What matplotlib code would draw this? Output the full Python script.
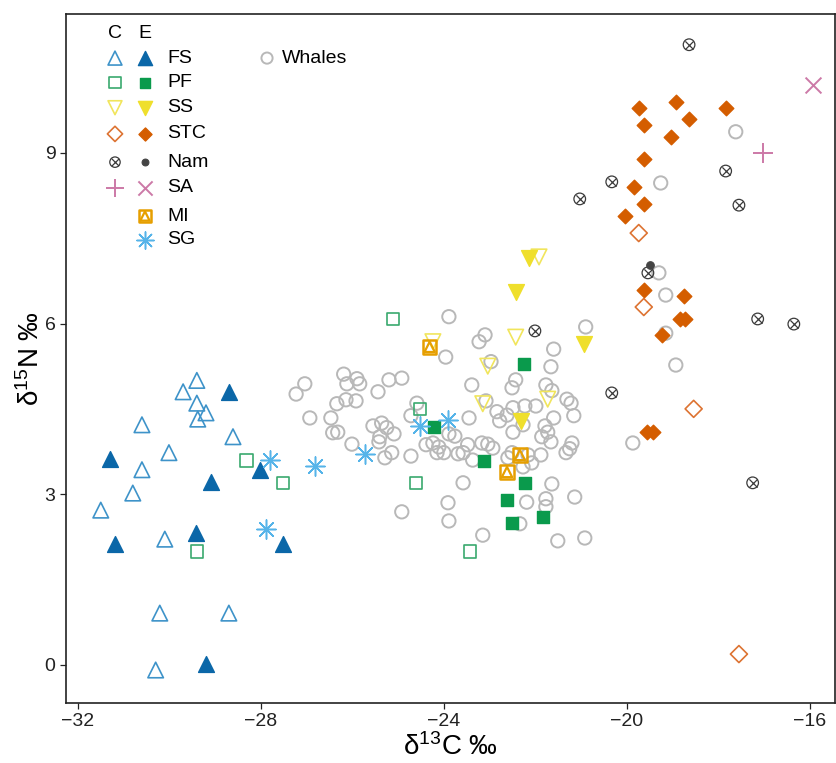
import matplotlib
matplotlib.use("Agg")
import matplotlib.pyplot as plt

plt.rcParams['font.family'] = ['Liberation Sans', 'DejaVu Sans']

# ---- data (d13C, d15N) ----
fs_c_x = [-29.40, -29.70, -29.40, -29.20, -29.38, -30.60, -28.61, -30.01, -30.60, -30.80,
          -31.50, -30.10, -30.21, -28.70, -30.30]
fs_c_y = [5.00, 4.80, 4.60, 4.43, 4.32, 4.22, 4.01, 3.73, 3.43, 3.02,
          2.72, 2.21, 0.91, 0.91, -0.09]
fs_e_x = [-28.70, -31.30, -28.02, -29.09, -29.42, -31.19, -27.52, -29.20]
fs_e_y = [4.80, 3.62, 3.43, 3.22, 2.32, 2.13, 2.13, 0.02]

pf_c_x = [-28.31, -27.52, -29.40, -25.11, -24.52, -24.61, -23.43]
pf_c_y = [3.59, 3.20, 1.99, 6.08, 4.50, 3.20, 1.99]
pf_e_x = [-24.22, -22.25, -23.13, -22.23, -22.62, -22.51, -21.84]
pf_e_y = [4.18, 5.29, 3.59, 3.20, 2.90, 2.50, 2.60]

ss_c_x = [-24.24, -22.43, -23.04, -23.15, -21.73, -21.92]
ss_c_y = [5.68, 5.76, 5.25, 4.59, 4.67, 7.17]
ss_e_x = [-22.14, -22.43, -20.94, -22.32]
ss_e_y = [7.15, 6.56, 5.64, 4.29]

stc_c_x = [-19.74, -19.63, -18.54, -17.55]
stc_c_y = [7.59, 6.29, 4.50, 0.19]
stc_e_x = [-19.74, -18.93, -17.84, -19.63, -18.64, -19.04, -19.63, -19.85, -19.63, -20.04,
           -19.63, -18.75, -18.84, -18.73, -19.23, -19.56, -19.43]
stc_e_y = [9.79, 9.89, 9.79, 9.49, 9.60, 9.28, 8.89, 8.40, 8.10, 7.89,
           6.59, 6.49, 6.08, 6.08, 5.80, 4.09, 4.09]

nam_c_x = [-18.64, -20.33, -21.03, -17.84, -17.55, -19.54, -17.14, -16.35, -22.01, -20.33, -17.25]
nam_c_y = [10.90, 8.49, 8.19, 8.68, 8.08, 6.89, 6.08, 5.99, 5.87, 4.78, 3.20]
nam_e_x = [-19.50]
nam_e_y = [7.03]

sa_c_x = [-17.03]
sa_c_y = [9.00]
sa_e_x = [-15.93]
sa_e_y = [10.19]

mi_e_x = [-24.31, -22.34, -22.62]
mi_e_y = [5.59, 3.69, 3.39]

sg_e_x = [-27.80, -26.82, -27.89, -25.73, -24.52, -23.91]
sg_e_y = [3.60, 3.50, 2.39, 3.71, 4.20, 4.31]

whale_x = [-23.89, -23.23, -23.10, -23.96, -26.19, -27.04, -27.23, -26.12, -25.90, -25.84,
           -25.20, -24.92, -25.44, -26.34, -26.14, -25.92, -23.39, -24.59, -24.72, -23.45,
           -26.93, -26.47, -26.43, -26.32, -25.55, -25.36, -25.25, -25.09, -25.40, -25.42,
           -26.01, -25.14, -25.29, -24.72, -24.39, -24.24, -24.11, -24.15, -24.00, -23.76,
           -23.89, -23.69, -23.58, -23.37, -23.58, -23.91, -23.89, -24.92, -23.15, -21.60,
           -21.66, -22.97, -22.43, -22.51, -21.77, -21.64, -21.31, -21.22, -22.84, -22.62,
           -22.49, -22.23, -21.99, -22.78, -21.79, -21.73, -21.16, -21.60, -22.49, -22.27,
           -23.48, -23.17, -23.04, -22.93, -22.51, -22.16, -21.88, -21.66, -21.20, -21.25,
           -21.33, -22.27, -22.08, -21.64, -22.19, -21.77, -21.77, -21.14, -22.34, -21.51,
           -20.92, -20.90, -19.87, -17.62, -19.26, -19.30, -19.15, -19.15, -18.93, -23.08,
           -21.86, -22.60]
whale_y = [6.12, 5.68, 5.80, 5.41, 5.11, 4.94, 4.76, 4.94, 5.03, 4.94,
           5.01, 5.04, 4.80, 4.59, 4.66, 4.64, 4.92, 4.60, 4.38, 4.34,
           4.34, 4.34, 4.08, 4.09, 4.20, 4.25, 4.17, 4.06, 4.01, 3.92,
           3.88, 3.73, 3.64, 3.67, 3.87, 3.90, 3.83, 3.73, 3.73, 4.02,
           4.06, 3.71, 3.73, 3.60, 3.20, 2.85, 2.53, 2.69, 2.28, 5.55,
           5.24, 5.33, 5.01, 4.87, 4.92, 4.82, 4.67, 4.60, 4.45, 4.39,
           4.52, 4.55, 4.55, 4.29, 4.20, 4.09, 4.38, 4.34, 4.09, 4.22,
           3.87, 3.90, 3.88, 3.81, 3.73, 3.69, 3.69, 3.92, 3.90, 3.80,
           3.73, 3.48, 3.55, 3.18, 2.86, 2.92, 2.78, 2.95, 2.48, 2.18,
           2.23, 5.94, 3.90, 9.37, 8.47, 6.89, 6.50, 5.83, 5.27, 4.64,
           4.01, 3.64]

group_names = ['FS', 'PF', 'SS', 'STC', 'Nam', 'SA', 'MI', 'SG']

# marker styles: layers of (marker, size, filled, colour, linewidth)
GREY = '#b8b8b8'
styles = {
    'whale': [('o', 92, False, GREY, 1.4)],
    'fs_c': [('^', 125, False, '#3e93c9', 1.2)],
    'fs_e': [('^', 130, True, '#0b67a8', 1.0)],
    'pf_c': [('s', 80, False, '#3aa96e', 1.2)],
    'pf_e': [('s', 75, True, '#0a9a4c', 1.0)],
    'ss_c': [('v', 125, False, '#f1e55c', 1.2)],
    'ss_e': [('v', 130, True, '#efdf2c', 1.0)],
    'stc_c': [('D', 75, False, '#dd7332', 1.2)],
    'stc_e': [('D', 55, True, '#d45d00', 1.0)],
    'nam_c': [('o', 70, False, '#3a3a3a', 0.9), ('x', 35, False, '#3a3a3a', 0.9)],
    'nam_e': [('o', 30, True, '#444444', 0.8)],
    'sa_c': [('+', 200, False, '#cc79a7', 1.4)],
    'sa_e': [('x', 130, False, '#cc79a7', 1.4)],
    'mi_e': [('s', 95, False, '#e69f00', 1.8), ('^', 55, False, '#e69f00', 1.6)],
    'sg_e': [((8, 2, 0), 190, False, '#56b4e9', 1.1)],
}
LINE_MARKERS = ('+', 'x')


def draw(ax, x, y, key, scale=1.0, **kw):
    for m, s, filled, col, lw in styles[key]:
        if filled:
            ax.scatter(x, y, marker=m, s=s * scale, facecolors=col, edgecolors=col, linewidths=lw, **kw)
        elif m in LINE_MARKERS or isinstance(m, tuple):
            ax.scatter(x, y, marker=m, s=s * scale, color=col, linewidths=lw, **kw)
        else:
            ax.scatter(x, y, marker=m, s=s * scale, facecolors='none', edgecolors=col, linewidths=lw, **kw)


fig = plt.figure(figsize=(8.37, 7.63), dpi=100)
ax = fig.add_axes([66 / 837, 60 / 763, 769 / 837, 689 / 763])

draw(ax, whale_x, whale_y, 'whale', zorder=2)
draw(ax, fs_c_x, fs_c_y, 'fs_c', zorder=3)
draw(ax, pf_c_x, pf_c_y, 'pf_c', zorder=3)
draw(ax, ss_c_x, ss_c_y, 'ss_c', zorder=3)
draw(ax, stc_c_x, stc_c_y, 'stc_c', zorder=3)
draw(ax, nam_c_x, nam_c_y, 'nam_c', zorder=3)
draw(ax, sa_c_x, sa_c_y, 'sa_c', zorder=3)
draw(ax, fs_e_x, fs_e_y, 'fs_e', zorder=4)
draw(ax, pf_e_x, pf_e_y, 'pf_e', zorder=4)
draw(ax, ss_e_x, ss_e_y, 'ss_e', zorder=4)
draw(ax, stc_e_x, stc_e_y, 'stc_e', zorder=4)
draw(ax, nam_e_x, nam_e_y, 'nam_e', zorder=4)
draw(ax, sa_e_x, sa_e_y, 'sa_e', zorder=4)
draw(ax, mi_e_x, mi_e_y, 'mi_e', zorder=4)
draw(ax, sg_e_x, sg_e_y, 'sg_e', zorder=4)

ax.set_xlim(-32.26, -15.45)
ax.set_ylim(-0.67, 11.44)
ax.set_xticks([-32, -28, -24, -20, -16])
ax.set_yticks([0, 3, 6, 9])
ax.tick_params(direction='out', length=4, width=0.9, labelsize=14, colors='#222222')
for sp in ax.spines.values():
    sp.set_linewidth(1.2)
    sp.set_color('#222222')
ax.set_xlabel(r'$\mathregular{\delta^{13}C}$ ‰', fontsize=20, labelpad=2)
ax.set_ylabel(r'$\mathregular{\delta^{15}N}$ ‰', fontsize=20, labelpad=0)

# hand-built legend, axes fraction
T = ax.transAxes
col_c, col_e, col_lab = 0.0637, 0.1027, 0.1313
ax.text(col_c, 0.971, 'C', transform=T, fontsize=14, ha='center', va='center')
ax.text(col_e, 0.971, 'E', transform=T, fontsize=14, ha='center', va='center')
rows = [0.936, 0.900, 0.864, 0.826, 0.785, 0.7475, 0.7068, 0.672]
c_keys = ['fs_c', 'pf_c', 'ss_c', 'stc_c', 'nam_c', 'sa_c', None, None]
e_keys = ['fs_e', 'pf_e', 'ss_e', 'stc_e', 'nam_e', 'sa_e', 'mi_e', 'sg_e']
for yy, name, ck, ek in zip(rows, group_names, c_keys, e_keys):
    if ck:
        draw(ax, [col_c], [yy], ck, scale=0.8, transform=T, clip_on=False, zorder=5)
    draw(ax, [col_e], [yy], ek, scale=0.8, transform=T, clip_on=False, zorder=5)
    ax.text(col_lab, yy, name, transform=T, fontsize=14, va='center', ha='left')
draw(ax, [0.2614], [0.936], 'whale', scale=0.7, transform=T, clip_on=False, zorder=5)
ax.text(0.2809, 0.936, 'Whales', transform=T, fontsize=14, va='center', ha='left')

fig.savefig('out.png', dpi=100)
